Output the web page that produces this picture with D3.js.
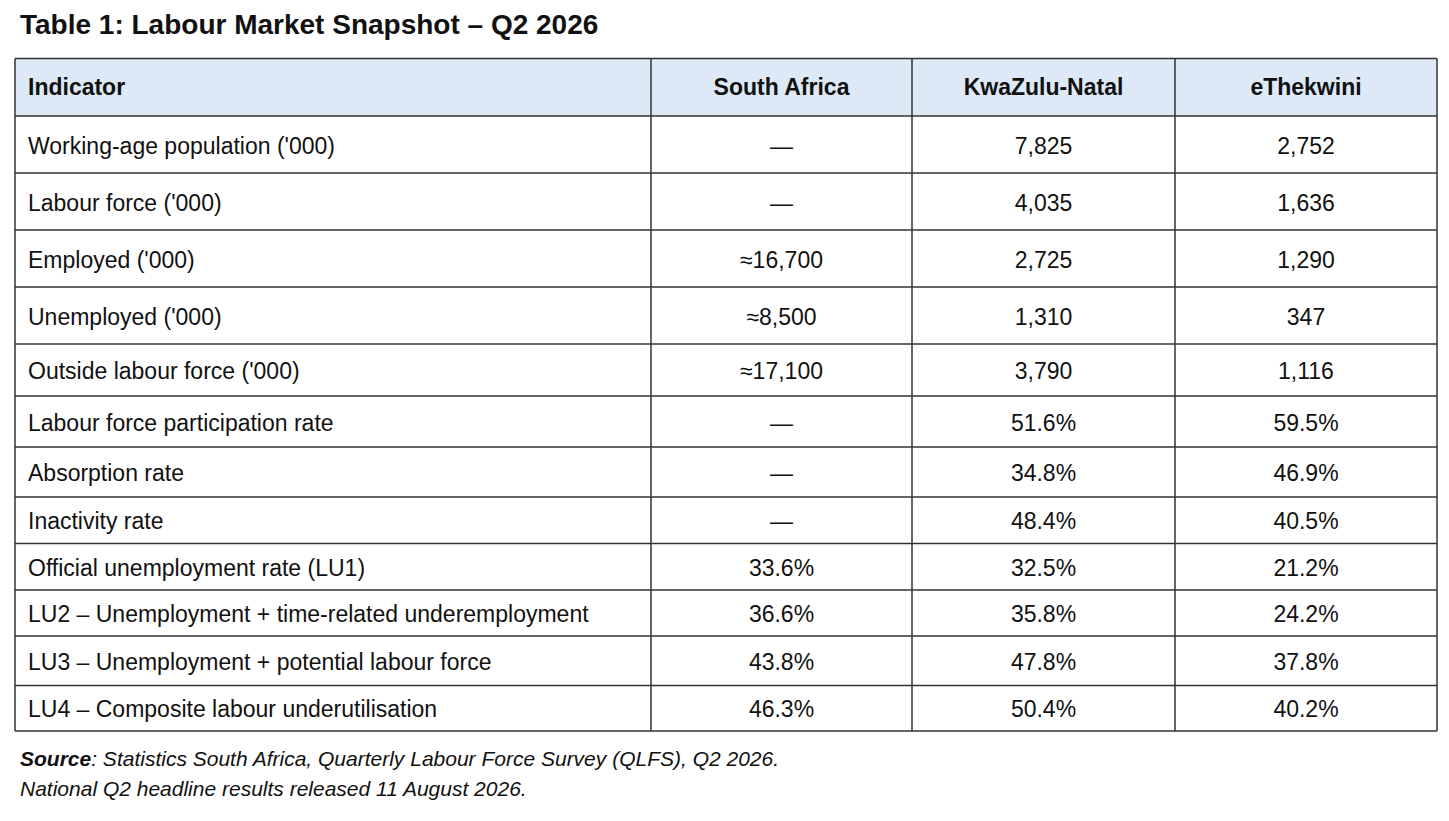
<!DOCTYPE html>
<html>
<head>
<meta charset="utf-8">
<script src="https://cdn.jsdelivr.net/npm/d3@7"></script>
<style>
  body { margin: 0; background: #fff; }
  svg text { font-family: "Liberation Sans", Arial, sans-serif; fill: #111; }
</style>
</head>
<body>
<div id="table-chart"></div>
<script>
// table content
const columns = ["Indicator", "South Africa", "KwaZulu-Natal", "eThekwini"];
const indicators = [
  "Working-age population ('000)",
  "Labour force ('000)",
  "Employed ('000)",
  "Unemployed ('000)",
  "Outside labour force ('000)",
  "Labour force participation rate",
  "Absorption rate",
  "Inactivity rate",
  "Official unemployment rate (LU1)",
  "LU2 \u2013 Unemployment + time-related underemployment",
  "LU3 \u2013 Unemployment + potential labour force",
  "LU4 \u2013 Composite labour underutilisation"
];
const southAfrica = ["\u2014", "\u2014", "\u224816,700", "\u22488,500", "\u224817,100", "\u2014", "\u2014", "\u2014", "33.6%", "36.6%", "43.8%", "46.3%"];
const kwaZuluNatal = ["7,825", "4,035", "2,725", "1,310", "3,790", "51.6%", "34.8%", "48.4%", "32.5%", "35.8%", "47.8%", "50.4%"];
const eThekwini = ["2,752", "1,636", "1,290", "347", "1,116", "59.5%", "46.9%", "40.5%", "21.2%", "24.2%", "37.8%", "40.2%"];

const titleText = "Table 1: Labour Market Snapshot \u2013 Q2 2026";
const sourceLabel = "Source";
const sourceText = ": Statistics South Africa, Quarterly Labour Force Survey (QLFS), Q2 2026.";
const noteText = "National Q2 headline results released 11 August 2026.";

// layout
const W = 1449, H = 821;
const tableTop = 58.5;
const colEdges = [15, 651, 912, 1175, 1437];
const rowHeights = [57.5, 57, 57, 57, 57, 52, 51, 50, 46.5, 46.5, 46, 49.5, 45.5];

const svg = d3.select("#table-chart").append("svg")
  .attr("width", W)
  .attr("height", H);

// title
svg.append("text")
  .attr("x", 20)
  .attr("y", 34)
  .style("font-size", "28px")
  .style("font-weight", "bold")
  .text(titleText);

// build rows
const rows = indicators.map((d, i) => [d, southAfrica[i], kwaZuluNatal[i], eThekwini[i]]);
const allRows = [columns].concat(rows);

// cumulative row positions
const rowEdges = [tableTop];
rowHeights.forEach(h => rowEdges.push(rowEdges[rowEdges.length - 1] + h));

// header background
svg.append("rect")
  .attr("x", colEdges[0])
  .attr("y", rowEdges[0])
  .attr("width", colEdges[4] - colEdges[0])
  .attr("height", rowHeights[0])
  .attr("fill", "#dde9f7");

// cells text
const rowG = svg.selectAll("g.row")
  .data(allRows)
  .join("g")
  .attr("class", "row")
  .attr("transform", (d, i) => `translate(0, ${(rowEdges[i] + rowEdges[i + 1]) / 2})`);

rowG.selectAll("text")
  .data((d, i) => d.map((v, j) => ({ v, j, header: i === 0 })))
  .join("text")
  .attr("x", d => d.j === 0 ? colEdges[0] + 13 : (colEdges[d.j] + colEdges[d.j + 1]) / 2)
  .attr("y", d => d.header ? 0 : 1)
  .attr("dy", "0.35em")
  .style("text-anchor", d => d.j === 0 ? "start" : "middle")
  .style("font-size", "23px")
  .style("font-weight", d => d.header ? "bold" : "normal")
  .text(d => d.v);

// grid lines
svg.selectAll("line.h")
  .data(rowEdges)
  .join("line")
  .attr("class", "h")
  .attr("x1", colEdges[0])
  .attr("x2", colEdges[4])
  .attr("y1", d => d)
  .attr("y2", d => d)
  .attr("stroke", "#333")
  .attr("stroke-width", 1.5);

svg.selectAll("line.v")
  .data(colEdges)
  .join("line")
  .attr("class", "v")
  .attr("x1", d => d)
  .attr("x2", d => d)
  .attr("y1", rowEdges[0])
  .attr("y2", rowEdges[rowEdges.length - 1])
  .attr("stroke", "#333")
  .attr("stroke-width", 1.5);

// footer
const src = svg.append("text")
  .attr("x", 20)
  .attr("y", 766)
  .style("font-size", "21px")
  .style("font-style", "italic");
src.append("tspan").style("font-weight", "bold").text(sourceLabel);
src.append("tspan").text(sourceText);

svg.append("text")
  .attr("x", 20)
  .attr("y", 796)
  .style("font-size", "21px")
  .style("font-style", "italic")
  .text(noteText);
</script>
</body>
</html>
